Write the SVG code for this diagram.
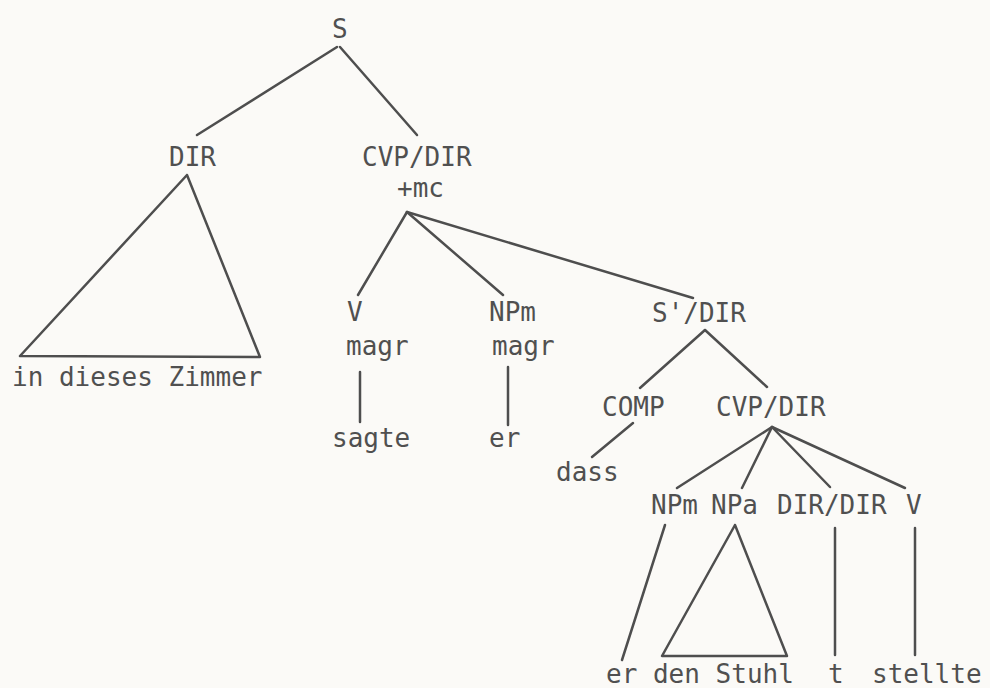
<svg xmlns="http://www.w3.org/2000/svg" width="990" height="688" viewBox="0 0 990 688">
<style>
text{font-family:"DejaVu Sans Mono","Liberation Mono",monospace;font-size:26px;fill:#505050}
.e{stroke:#4e4e4e;stroke-width:2.5;fill:none;stroke-linecap:round;stroke-linejoin:round}
</style>
<rect width="990" height="688" fill="#fbfaf7"/>
<g id="connectors">
<line class="e" x1="337" y1="47" x2="197" y2="135"/>
<line class="e" x1="340" y1="47" x2="417" y2="135"/>
<polygon class="e" points="187,175 20,356 260,357"/>
<line class="e" x1="407" y1="212" x2="358" y2="295"/>
<line class="e" x1="407" y1="212" x2="503" y2="295"/>
<line class="e" x1="407" y1="212" x2="693" y2="298"/>
<line class="e" x1="360" y1="372" x2="360" y2="422"/>
<line class="e" x1="508" y1="367" x2="508" y2="425"/>
<line class="e" x1="705" y1="330" x2="640" y2="388"/>
<line class="e" x1="705" y1="330" x2="767" y2="387"/>
<line class="e" x1="633" y1="423" x2="592" y2="457"/>
<line class="e" x1="772" y1="427" x2="677" y2="488"/>
<line class="e" x1="772" y1="427" x2="742" y2="488"/>
<line class="e" x1="772" y1="427" x2="830" y2="487"/>
<line class="e" x1="772" y1="427" x2="905" y2="488"/>
<line class="e" x1="665" y1="525" x2="622" y2="660"/>
<polygon class="e" points="735,525 662,656 787,656"/>
<line class="e" x1="835" y1="528" x2="835" y2="655"/>
<line class="e" x1="915" y1="528" x2="915" y2="655"/>
</g>
<g id="n-S"><text x="332" y="38">S</text></g>
<g id="n-DIR"><text x="169" y="166">DIR</text></g>
<g id="n-CVPDIR1"><text x="362" y="166">CVP/DIR</text><text x="397" y="197">+mc</text></g>
<g id="n-dir-yield"><text x="12" y="386">in dieses Zimmer</text></g>
<g id="n-V1"><text x="347" y="321">V</text><text x="346" y="355">magr</text></g>
<g id="n-sagte"><text x="332" y="447">sagte</text></g>
<g id="n-NPm1"><text x="489" y="321">NPm</text><text x="492" y="355">magr</text></g>
<g id="n-er1"><text x="489" y="447">er</text></g>
<g id="n-SDIR"><text x="652" y="322">S'/DIR</text></g>
<g id="n-COMP"><text x="602" y="416">COMP</text></g>
<g id="n-CVPDIR2"><text x="716" y="416">CVP/DIR</text></g>
<g id="n-dass"><text x="556" y="481">dass</text></g>
<g id="n-NPm2"><text x="651" y="514">NPm</text></g>
<g id="n-NPa"><text x="711" y="514">NPa</text></g>
<g id="n-DIRDIR"><text x="777" y="514">DIR/DIR</text></g>
<g id="n-V2"><text x="906" y="514">V</text></g>
<g id="n-er2"><text x="606" y="683">er den Stuhl</text></g>
<g id="n-t"><text x="828" y="683">t</text></g>
<g id="n-stellte"><text x="872" y="683">stellte</text></g>
</svg>
